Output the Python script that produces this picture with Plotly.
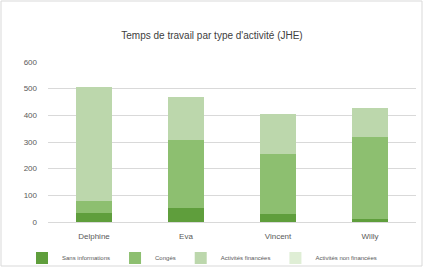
import plotly.graph_objects as go

categories = ["Delphine", "Eva", "Vincent", "Willy"]
series_names = ["Sans informations", "Congés", "Activités financées", "Activités non financées"]
s1 = [33, 54, 29, 13]
s2 = [46, 252, 227, 307]
s3 = [426, 164, 150, 109]
s4 = [0, 0, 0, 0]
y_ticks = [0, 100, 200, 300, 400, 500, 600]

colors = ["#5f9e3c", "#8dbf70", "#bcd7ac", "#dfeed5"]

fig = go.Figure()
for name, vals, col in zip(series_names, [s1, s2, s3, s4], colors):
    fig.add_trace(go.Bar(x=categories, y=vals, name=name, marker_color=col,
                         marker_line_width=0))

W, H = 424, 268
ml, mr, mt, mb = 48, 8, 62, 46
pw, ph = W - ml - mr, H - mt - mb

fig.update_layout(
    width=W, height=H,
    margin=dict(l=ml, r=mr, t=mt, b=mb, autoexpand=False),
    barmode="stack", bargap=0.6,
    paper_bgcolor="white", plot_bgcolor="white",
    font=dict(family="Liberation Sans, Arial, sans-serif", size=8, color="#595959"),
    title=dict(text="Temps de travail par type d'activité (JHE)", x=0.5, xanchor="center",
               y=1 - 35 / H, yanchor="middle", yref="container",
               font=dict(size=10, color="#404040")),
    showlegend=True,
    legend=dict(orientation="h", xref="container", x=22 / W, xanchor="left",
                yref="container", y=1 - 258 / H, yanchor="middle",
                font=dict(size=6, color="#595959"), bgcolor="rgba(0,0,0,0)",
                traceorder="normal", itemwidth=30, tracegroupgap=0),
    xaxis=dict(showgrid=False, showline=True, linecolor="#d9d9d9", ticks="",
               ticklabelstandoff=6, tickfont=dict(size=8, color="#595959")),
    yaxis=dict(range=[0, 600], tickvals=y_ticks, showgrid=True, gridcolor="#d9d9d9",
               zeroline=False, showline=False, ticks="", ticklabelstandoff=10,
               tickfont=dict(size=8, color="#595959")),
    shapes=[dict(type="rect", xref="paper", yref="paper",
                 x0=(1 - ml) / pw, x1=(W - 2 - ml) / pw,
                 y0=-(H - 2 - (H - mb)) / ph, y1=(H - mb - 1) / ph,
                 line=dict(color="#d9d9d9", width=1), fillcolor="rgba(0,0,0,0)",
                 layer="below")],
)

fig.write_html("out.html", config={"displayModeBar": False},
               post_script="document.body.style.margin='0';document.body.style.padding='0';")
